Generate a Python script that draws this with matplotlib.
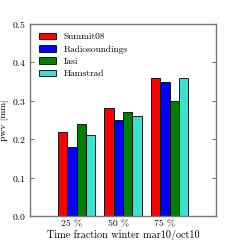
import matplotlib
matplotlib.use("Agg")
import matplotlib.pyplot as plt
import numpy as np

plt.rcParams["font.family"] = "serif"
plt.rcParams["font.serif"] = ["cmr10", "DejaVu Serif"]
plt.rcParams["axes.formatter.use_mathtext"] = True

# data
fractions = ["25 %", "50 %", "75 %"]
series = ["Summit08", "Radiosoundings", "Iasi", "Hamstrad"]
summit08 = [0.22, 0.28, 0.36]
radiosoundings = [0.18, 0.25, 0.35]
iasi = [0.24, 0.27, 0.30]
hamstrad = [0.21, 0.26, 0.36]
colors = ["red", "blue", "green", "turquoise"]

fig = plt.figure(figsize=(2.4, 2.4), dpi=100)
ax = fig.add_axes([0.125, 0.1, 0.775, 0.8])

ind = np.arange(len(fractions)) + 0.6
width = 0.2
for i, (name, vals) in enumerate(zip(series, [summit08, radiosoundings, iasi, hamstrad])):
    ax.bar(ind + i * width, vals, width, align="edge", color=colors[i],
           edgecolor="black", linewidth=0.6, label=name)

ax.set_xlim(0, 4)
ax.set_ylim(0, 0.5)
ax.set_xticks(ind + 0.3)
ax.set_xticklabels(fractions)
ax.set_yticks([0.0, 0.1, 0.2, 0.3, 0.4, 0.5])
ax.tick_params(axis="x", length=0, labelsize=7, pad=3)
ax.tick_params(axis="y", direction="in", right=True, length=3, labelsize=7,
               color="#777777", pad=3)
for sp in ax.spines.values():
    sp.set_color("#777777")
    sp.set_linewidth(1.0)

ax.set_xlabel("Time fraction winter mar10/oct10", fontsize=7.3, labelpad=1)
ax.set_ylabel("pwv [mm]", fontsize=7, labelpad=2)
ax.legend(loc="upper left", fontsize=6.8, frameon=False, handlelength=1.8,
          handleheight=0.75, handletextpad=0.85, labelspacing=0.38,
          borderaxespad=0.5)

fig.savefig("out.png", dpi=100)
